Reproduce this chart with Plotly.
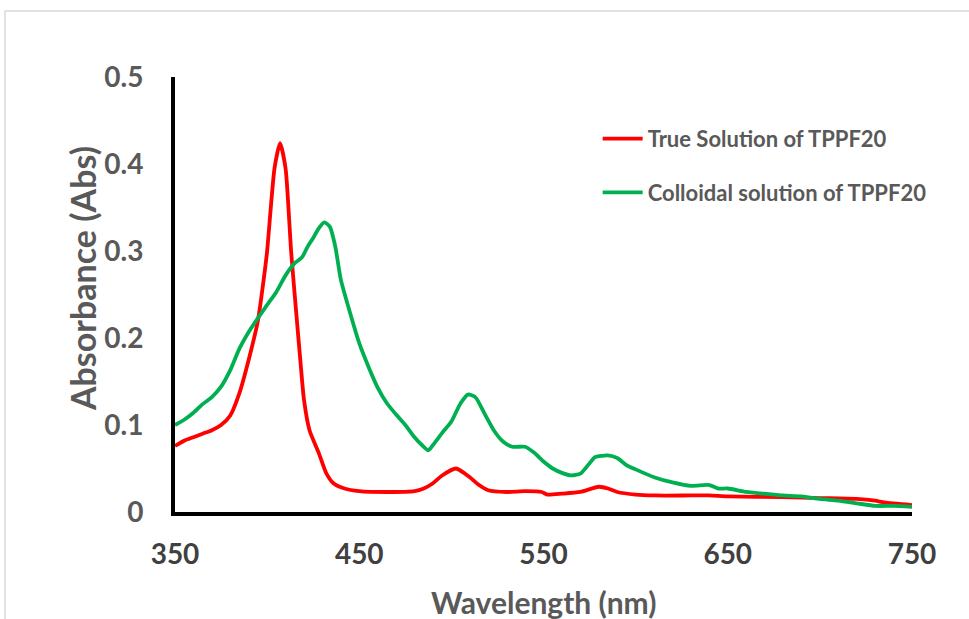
import plotly.graph_objects as go

# True solution of TPPF20 (red)
true_wl = [350, 355, 360, 365, 370, 375, 380, 385, 390, 395, 398, 400, 402, 404, 407, 410, 412, 413, 416, 418,
           420, 423, 428, 432, 436, 442, 450, 465, 480, 485, 490, 495, 502.5, 510, 515, 520, 530, 540, 549, 552,
           560, 570, 580, 585, 590, 600, 610, 630, 640, 650, 680, 700, 720, 730, 735, 750]
true_abs = [0.076, 0.082, 0.086, 0.090, 0.094, 0.100, 0.111, 0.137, 0.175, 0.220, 0.265, 0.300, 0.350, 0.395, 0.424,
            0.395, 0.335, 0.300, 0.224, 0.175, 0.129, 0.094, 0.068, 0.045, 0.033, 0.027, 0.024, 0.023, 0.024, 0.027,
            0.033, 0.042, 0.050, 0.040, 0.031, 0.025, 0.023, 0.024, 0.023, 0.020, 0.021, 0.023, 0.029, 0.027, 0.023,
            0.020, 0.019, 0.019, 0.019, 0.018, 0.017, 0.016, 0.015, 0.013, 0.011, 0.008]

# Colloidal solution of TPPF20 (green)
coll_wl = [350, 355, 360, 365, 370, 375, 380, 385, 390, 395, 400, 405, 410, 415, 419, 422, 425, 428, 431, 434, 437,
           440, 445, 450, 455, 460, 465, 470, 475, 480, 484, 487.5, 490, 495, 500, 505, 509, 513, 518, 523, 528, 533,
           540, 545, 550, 555, 560, 565, 570, 575, 578, 585, 590, 595, 600, 610, 620, 630, 640, 645, 650, 660, 670,
           680, 690, 700, 710, 720, 730, 740, 750]
coll_abs = [0.100, 0.106, 0.114, 0.124, 0.132, 0.144, 0.163, 0.188, 0.207, 0.223, 0.238, 0.253, 0.272, 0.286, 0.293,
            0.305, 0.315, 0.326, 0.333, 0.328, 0.305, 0.267, 0.229, 0.194, 0.167, 0.143, 0.125, 0.112, 0.100, 0.086,
            0.077, 0.071, 0.077, 0.091, 0.104, 0.125, 0.135, 0.132, 0.113, 0.094, 0.081, 0.075, 0.075, 0.068, 0.058,
            0.050, 0.045, 0.042, 0.044, 0.056, 0.063, 0.065, 0.062, 0.054, 0.049, 0.040, 0.034, 0.030, 0.031, 0.027,
            0.027, 0.023, 0.021, 0.019, 0.018, 0.015, 0.013, 0.010, 0.007, 0.007, 0.006]

x_ticks = [350, 450, 550, 650, 750]
y_ticks = [0, 0.1, 0.2, 0.3, 0.4, 0.5]
y_tick_text = ["0", "0.1", "0.2", "0.3", "0.4", "0.5"]

FONT = "Lato, 'Open Sans', sans-serif"

fig = go.Figure()
fig.add_trace(go.Scatter(x=true_wl, y=true_abs, mode="lines", name="True Solution of TPPF20",
                         legendgroup="a",
                         line=dict(color="#FF0000", width=3.8, shape="spline", smoothing=0.6)))
fig.add_trace(go.Scatter(x=coll_wl, y=coll_abs, mode="lines", name="Colloidal solution of TPPF20",
                         legendgroup="b",
                         line=dict(color="#00B050", width=3.8, shape="spline", smoothing=0.6)))

fig.update_layout(
    width=969, height=619,
    margin=dict(l=175, r=57, t=77, b=107, autoexpand=False),
    paper_bgcolor="white", plot_bgcolor="white",
    font=dict(family=FONT),
    showlegend=True,
    legend=dict(x=0.5735, y=0.906, xanchor="left", yanchor="top",
                font=dict(size=22, color="#595959", family=FONT, weight="bold"),
                bgcolor="rgba(0,0,0,0)", itemwidth=40, tracegroupgap=22,
                traceorder="grouped"),
    xaxis=dict(range=[350, 750], tickvals=x_ticks, ticktext=[str(v) for v in x_ticks],
               showgrid=False, zeroline=False, showline=True, linecolor="black", linewidth=4,
               ticks="", ticklabelstandoff=14, automargin=False,
               tickfont=dict(size=28, color="#404040", family=FONT, weight="bold")),
    yaxis=dict(range=[0, 0.5], tickvals=y_ticks, ticktext=y_tick_text,
               showgrid=False, zeroline=False, showline=True, linecolor="black", linewidth=4,
               ticks="", ticklabelstandoff=22, automargin=False,
               tickfont=dict(size=28, color="#595959", family=FONT, weight="bold")),
    annotations=[
        dict(text="Wavelength (nm)", xref="paper", yref="paper", x=0.5, y=(512 - 602) / 435,
             xanchor="center", yanchor="middle", showarrow=False,
             font=dict(size=30, color="#595959", family=FONT, weight="bold")),
        dict(text="Absorbance (Abs)", xref="paper", yref="paper", x=(82 - 175) / 737, y=(512 - 279) / 435,
             xanchor="center", yanchor="middle", showarrow=False, textangle=-90,
             font=dict(size=34, color="#595959", family=FONT, weight="bold")),
    ],
    shapes=[dict(type="rect", xref="paper", yref="paper",
                 x0=-0.2307, x1=1.09, y0=-0.26, y1=1.1517,
                 line=dict(color="#d9d9d9", width=1.5), fillcolor="rgba(0,0,0,0)", layer="below")],
)

fig.write_html("out.html", config={"displayModeBar": False},
               post_script="document.body.style.margin='0';document.body.style.overflow='hidden';")
